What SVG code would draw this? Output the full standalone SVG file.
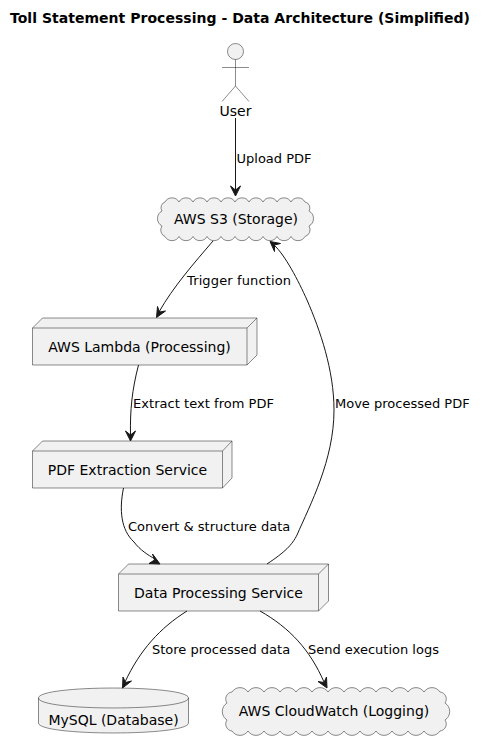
<svg xmlns="http://www.w3.org/2000/svg" width="487" height="749" viewBox="0 0 487 749">
<style>
text{font-family:"DejaVu Sans",sans-serif;fill:#000}
.n{font-size:14px}.l{font-size:13px}.t{font-size:14px;font-weight:bold}
.s{fill:#f1f1f1;stroke:#181818;stroke-width:.5}
.d{fill:none;stroke:#181818;stroke-width:.5}
.c{fill:none;stroke:#181818;stroke-width:1}
.h{fill:#181818;stroke:#181818;stroke-width:1}
</style>
<rect width="487" height="749" fill="#fff"/>
<text class="t" x="10" y="23" textLength="460" lengthAdjust="spacing">Toll Statement Processing - Data Architecture (Simplified)</text>
<g id="user"><circle class="s" cx="235.5" cy="51.5" r="8"/><path class="d" d="M235.500 59.500V86M222 67.500H249M235.500 86L222 101.500M235.500 86L249 101.500"/><text class="n" x="235.500" y="116" text-anchor="middle">User</text></g>
<g id="s3"><path class="s" d="M165 202a8 8 0 0 1 14 0a8 8 0 0 1 14 0a8 8 0 0 1 14 0a8 8 0 0 1 14 0a8 8 0 0 1 14 0a8 8 0 0 1 14 0a8 8 0 0 1 14 0a8 8 0 0 1 14 0a8 8 0 0 1 14 0a8 8 0 0 1 14 0A6 6 0 0 1 309 211A8.500 8.500 0 0 1 309 226A7 7 0 0 1 305 236.500a8 8 0 0 1 -14 0a8 8 0 0 1 -14 0a8 8 0 0 1 -14 0a8 8 0 0 1 -14 0a8 8 0 0 1 -14 0a8 8 0 0 1 -14 0a8 8 0 0 1 -14 0a8 8 0 0 1 -14 0a8 8 0 0 1 -14 0a8 8 0 0 1 -14 0A7 7 0 0 1 162 226A8.500 8.500 0 0 1 162 211A6 6 0 0 1 165 202Z"/><text class="n" x="236" y="224" text-anchor="middle">AWS S3 (Storage)</text></g>
<g id="lambda"><path class="s" d="M32.500 328L42.500 318H257V355L247 365H32.500Z"/><path class="d" d="M32.500 328H247V365M247 328L257 318"/><text class="n" x="139.500" y="352" text-anchor="middle">AWS Lambda (Processing)</text></g>
<g id="pdf"><path class="s" d="M32.500 451L42.500 441H232V478L222.500 488H32.500Z"/><path class="d" d="M32.500 451H222.500V488M222.500 451L232 441"/><text class="n" x="127.500" y="475" text-anchor="middle">PDF Extraction Service</text></g>
<g id="data"><path class="s" d="M118.500 574L128.500 564H328.500V601L318.500 611H118.500Z"/><path class="d" d="M118.500 574H318.500V611M318.500 574L328.500 564"/><text class="n" x="218.500" y="598" text-anchor="middle">Data Processing Service</text></g>
<g id="mysql"><path class="s" d="M38.500 698C38.500 684.700 188.500 684.700 188.500 698V723C188.500 736.300 38.500 736.300 38.500 723Z"/><path class="d" d="M38.500 698C38.500 711.300 188.500 711.300 188.500 698"/><text class="n" x="113.500" y="725" text-anchor="middle">MySQL (Database)</text></g>
<g id="cloudwatch"><path class="s" d="M232 692a9.500 9.500 0 0 1 16 0a9.500 9.500 0 0 1 16 0a9.500 9.500 0 0 1 16 0a9.500 9.500 0 0 1 16 0a9.500 9.500 0 0 1 16 0a9.500 9.500 0 0 1 16 0a9.500 9.500 0 0 1 16 0a9.500 9.500 0 0 1 16 0a9.500 9.500 0 0 1 16 0a9.500 9.500 0 0 1 16 0a9.500 9.500 0 0 1 16 0a9.500 9.500 0 0 1 16 0a9.500 9.500 0 0 1 16 0A7 7 0 0 1 445 703A10 10 0 0 1 445 720A7 7 0 0 1 440 731a9.500 9.500 0 0 1 -16 0a9.500 9.500 0 0 1 -16 0a9.500 9.500 0 0 1 -16 0a9.500 9.500 0 0 1 -16 0a9.500 9.500 0 0 1 -16 0a9.500 9.500 0 0 1 -16 0a9.500 9.500 0 0 1 -16 0a9.500 9.500 0 0 1 -16 0a9.500 9.500 0 0 1 -16 0a9.500 9.500 0 0 1 -16 0a9.500 9.500 0 0 1 -16 0a9.500 9.500 0 0 1 -16 0a9.500 9.500 0 0 1 -16 0A7 7 0 0 1 227 720A10 10 0 0 1 227 703A7 7 0 0 1 232 692Z"/><text class="n" x="334" y="716" text-anchor="middle">AWS CloudWatch (Logging)</text></g>
<g id="connectors">
<path class="c" d="M235.500 118V192"/><path class="h" d="M235.500 196L230.500 186L235.500 190L240.500 186Z"/>
<text class="l" x="236.500" y="163">Upload PDF</text>
<path class="c" d="M213 241C195 262 173 287 159 312"/><path class="h" d="M156.500 317.500L157.500 306.500L159.500 312L165.500 311Z"/>
<text class="l" x="187" y="285" textLength="104">Trigger function</text>
<path class="c" d="M138.500 365C132 390 130 410 130.500 435"/><path class="h" d="M130.500 441L125.500 431L130.500 435L135.500 431Z"/>
<text class="l" x="133" y="408" textLength="141">Extract text from PDF</text>
<path class="c" d="M123.500 488C119 510 121 530 134 542C140 550 148 555 155 559"/><path class="h" d="M160 564L149 563.500L154.500 560L152.500 554Z"/>
<text class="l" x="128" y="531">Convert &amp; structure data</text>
<path class="c" d="M267 564C285 552 292 545 297 535C310 505 334 460 334 410C334 370 320 330 307 300C298 280 285 255 274 245"/><path class="h" d="M270 241.500L280.500 243.500L274.500 245L274.500 251.500Z"/>
<text class="l" x="335" y="408">Move processed PDF</text>
<path class="c" d="M187 611C160 628 140 650 125 682"/><path class="h" d="M122.500 688L123 677L125.500 682.500L131.500 681Z"/>
<text class="l" x="152" y="654">Store processed data</text>
<path class="c" d="M260 611C290 628 310 650 324 682"/><path class="h" d="M327 688L318 681.500L324 682.500L326.500 677Z"/>
<text class="l" x="308" y="654">Send execution logs</text>
</g>
</svg>
